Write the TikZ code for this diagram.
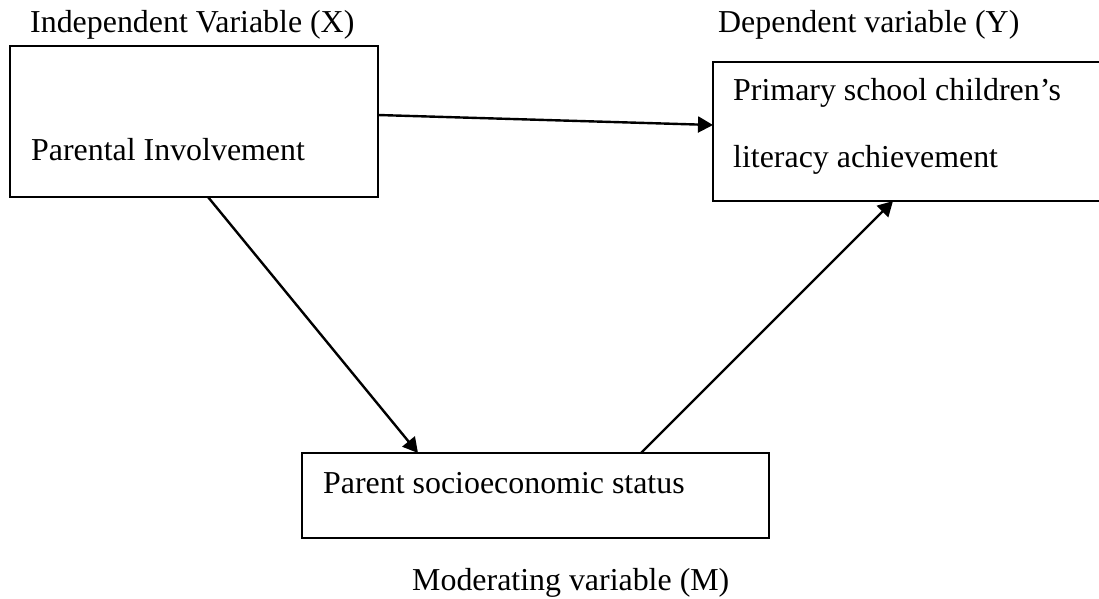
\documentclass[tikz,border=0pt]{standalone}
\usepackage{fontspec}
\setmainfont{Liberation Serif}
\usetikzlibrary{arrows.meta}
\begin{document}
\begin{tikzpicture}[x=1pt,y=-1pt,
  box/.style={draw=black,line width=2.4pt,inner sep=0pt,outer sep=0pt,anchor=north west,rectangle},
  lbl/.style={anchor=base west,inner sep=0pt,font=\fontsize{31.9}{38}\selectfont},
  conn/.style={line width=2.4pt,-{Triangle[length=15pt,width=16pt]}}]
\useasboundingbox (0,0) rectangle (1099,598);
\clip (0,0) rectangle (1099,598);
\node[box,minimum width=368pt,minimum height=151pt] (b1) at (10,46) {};
\node[box,minimum width=400pt,minimum height=139pt] (b2) at (713,62) {};
\node[box,minimum width=467pt,minimum height=85pt] (b3) at (302,453) {};
\node[lbl] (tx) at (30,32) {Independent Variable (X)};
\node[lbl] (ty) at (718,32) {Dependent variable (Y)};
\node[lbl] (t1) at (31,160) {Parental Involvement};
\node[lbl] (t2a) at (733,100) {Primary school children’s};
\node[lbl] (t2b) at (733,167) {literacy achievement};
\node[lbl] (t3) at (323,493) {Parent socioeconomic status};
\node[lbl] (tm) at (412,590) {Moderating variable (M)};
\coordinate (a1s) at ([yshift=6.5pt]b1.east);
\coordinate (a1e) at ([yshift=-63pt]b2.north west);
\coordinate (a2s) at ([xshift=198pt]b1.south west);
\coordinate (a2e) at ([xshift=116pt]b3.north west);
\coordinate (a3s) at ([xshift=339pt]b3.north west);
\coordinate (a3e) at ([xshift=180pt]b2.south west);
\draw[conn] (a1s) -- (a1e);
\draw[conn] (a2s) -- (a2e);
\draw[conn] (a3s) -- (a3e);
\end{tikzpicture}
\end{document}
